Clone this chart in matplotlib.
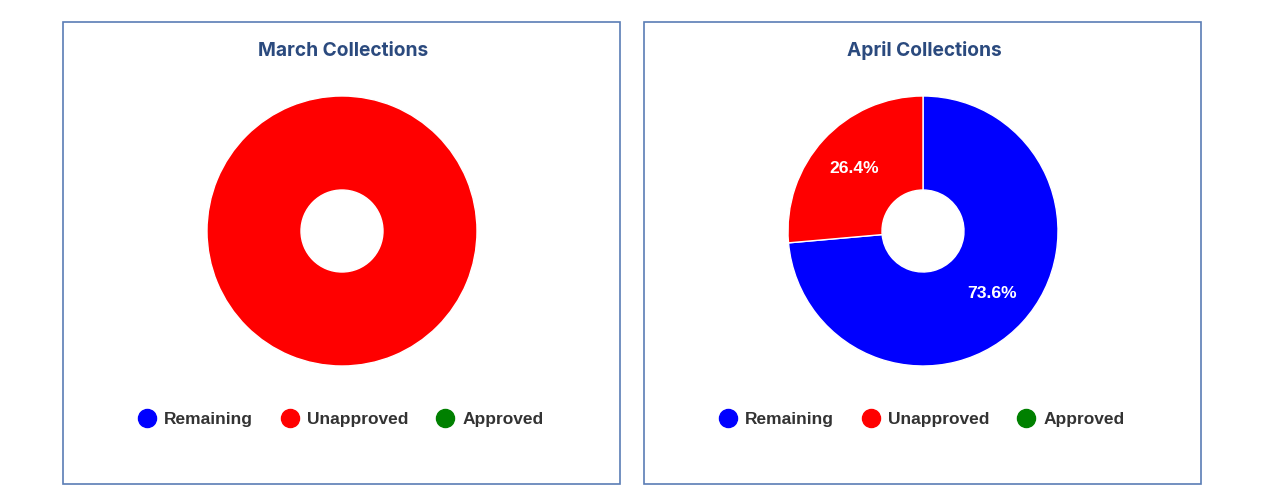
"""Monthly collections donut charts."""

import matplotlib
matplotlib.use("Agg")
import matplotlib.pyplot as plt
from matplotlib.lines import Line2D
from matplotlib.patches import Rectangle

categories = ["Remaining", "Unapproved", "Approved"]
colors = ["#0000ff", "#ff0000", "#008000"]
months = ["March", "April"]
march_values = [0.0, 100.0, 0.0]
april_values = [73.6, 26.4, 0.0]

TITLE_COLOR = "#2b4a7e"
BORDER_COLOR = "#5a7db5"
TEXT_COLOR = "#333333"

fig = plt.figure(figsize=(12.8, 5.0), dpi=100)
W, H = 1280, 500


def fx(px):
    return px / W


def fy(py):
    return 1 - py / H


def pct_label(pct):
    if pct < 0.5 or pct > 99.5:
        return ""
    return f"{pct:.1f}%"


panels = [(63, 342, march_values), (644, 923, april_values)]
for (box_left, cx, values), month in zip(panels, months):
    # panel border
    fig.add_artist(Rectangle((fx(box_left), fy(484)), fx(557), 462 / H,
                             transform=fig.transFigure, fill=False,
                             edgecolor=BORDER_COLOR, linewidth=1.2))
    fig.text(fx(cx + 1), fy(50.5), f"{month} Collections", ha="center", va="center",
             fontsize=13.8, fontweight="bold", color=TITLE_COLOR, family="Inter")

    r = 135
    ax = fig.add_axes([fx(cx - r), fy(231 + r), fx(2 * r), 2 * r / H])
    vals = [v for v in values if v > 0]
    cols = [c for v, c in zip(values, colors) if v > 0]
    wedges, _, autotexts = ax.pie(
        vals, colors=cols, startangle=90, counterclock=False,
        autopct=pct_label, pctdistance=0.69,
        wedgeprops=dict(width=1 - 41 / 135, edgecolor="white", linewidth=1),
        textprops=dict(color="white", fontsize=12.6, fontweight="bold",
                       family="Liberation Sans"))
    ax.set_xlim(-1, 1)
    ax.set_ylim(-1, 1)
    ax.set_aspect("equal")
    ax.axis("off")

    handles = [Line2D([], [], marker="o", linestyle="", markersize=13,
                      markerfacecolor=c, markeredgecolor=c) for c in colors]
    fig.legend(handles, categories, loc="center", ncol=3, frameon=False,
               bbox_to_anchor=(fx(cx + 0.5), fy(419.5)),
               prop=dict(family="Liberation Sans", weight="bold", size=12.5),
               labelcolor=TEXT_COLOR, handlelength=0.6, handletextpad=0.68,
               columnspacing=1.83, borderpad=0, borderaxespad=0)

fig.savefig("out.png", dpi=100, facecolor="white")
